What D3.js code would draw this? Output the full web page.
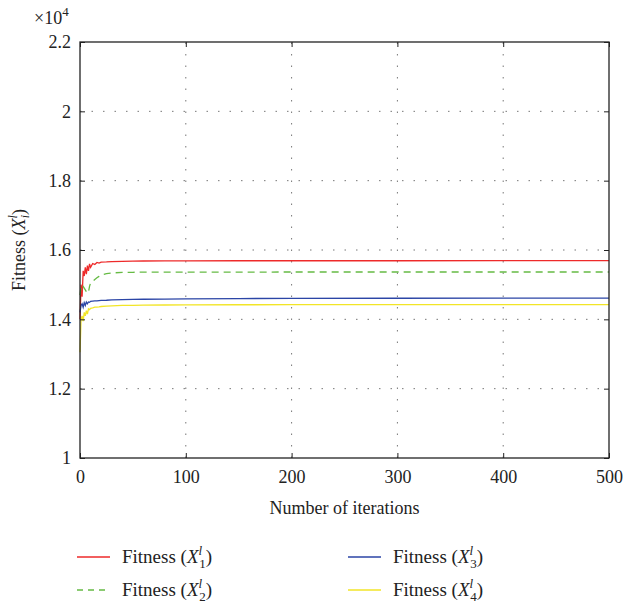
<!DOCTYPE html>
<html>
<head>
<meta charset="utf-8">
<script src="https://cdn.jsdelivr.net/npm/d3@7"></script>
<style>
  body { margin: 0; background: #fff; }
  text { font-family: "Liberation Serif", "DejaVu Serif", serif; fill: #222; }
</style>
</head>
<body>
<div id="chart"></div>
<script>
const iterations = [0, 1, 2, 3, 4, 5, 6, 7, 8, 9, 10, 12, 14, 16, 18, 20, 25, 30, 40, 50, 60, 80, 100, 150, 200, 300, 400, 500];
const fitness1 = [14000, 15000, 14650, 15400, 15250, 15500, 15300, 15550, 15400, 15600, 15500, 15610, 15580, 15640, 15620, 15650, 15655, 15665, 15672, 15678, 15682, 15685, 15688, 15690, 15690, 15690, 15692, 15692];
const fitness2 = [14700, 14950, 15000, 14950, 14900, 14850, 14800, 14750, 14780, 14950, 15050, 15100, 15150, 15200, 15240, 15280, 15320, 15340, 15352, 15357, 15360, 15362, 15363, 15364, 15365, 15365, 15366, 15366];
const fitness3 = [14200, 14400, 14450, 14350, 14480, 14400, 14500, 14450, 14500, 14490, 14520, 14525, 14530, 14535, 14540, 14545, 14550, 14560, 14570, 14575, 14580, 14585, 14590, 14600, 14605, 14608, 14610, 14610];
const fitness4 = [13050, 14000, 14100, 13950, 14200, 14100, 14250, 14150, 14300, 14280, 14320, 14330, 14350, 14355, 14360, 14370, 14380, 14390, 14400, 14405, 14410, 14413, 14415, 14420, 14422, 14424, 14425, 14425];
const seriesNames = ["1", "2", "3", "4"];
const seriesColors = ["#ee2a2a", "#66bb44", "#2b45a6", "#f2e527"];
const xTicks = [0, 100, 200, 300, 400, 500];
const yTicks = [10000, 12000, 14000, 16000, 18000, 20000, 22000];

const width = 624, height = 610;
const margin = {left: 80, right: 15, top: 42, bottom: 152};

const svg = d3.select("#chart").append("svg")
    .attr("width", width)
    .attr("height", height);

const x = d3.scaleLinear().domain([0, 500]).range([margin.left, width - margin.right]);
const y = d3.scaleLinear().domain([10000, 22000]).range([height - margin.bottom, margin.top]);

const x0 = x.range()[0], x1 = x.range()[1], y0 = y.range()[0], y1 = y.range()[1];

// grid
const grid = svg.append("g")
    .attr("stroke", "#777")
    .attr("stroke-width", 1)
    .attr("stroke-dasharray", "1.5,10");
grid.selectAll(".gx").data(xTicks.slice(1, -1)).join("line")
    .attr("x1", d => x(d)).attr("x2", d => x(d))
    .attr("y1", y0).attr("y2", y1);
grid.selectAll(".gy").data(yTicks.slice(1, -1)).join("line")
    .attr("x1", x0).attr("x2", x1)
    .attr("y1", d => y(d)).attr("y2", d => y(d));

// lines
const data = [fitness1, fitness2, fitness3, fitness4];
const line = d3.line()
    .x((d, i) => x(iterations[i]))
    .y(d => y(d));

svg.append("g")
    .attr("fill", "none")
    .attr("stroke-width", 1.3)
    .selectAll("path")
    .data(data)
    .join("path")
    .attr("stroke", (d, i) => seriesColors[i])
    .attr("stroke-dasharray", (d, i) => i === 1 ? "7,5" : null)
    .attr("d", line);

// axes (ticks inward, boxed)
const ax = svg.append("g");
ax.append("g").attr("transform", `translate(0,${y0})`)
    .call(d3.axisBottom(x).tickValues(xTicks).tickSize(-5).tickPadding(12))
    .call(g => g.select(".domain").remove());
ax.append("g").attr("transform", `translate(${x0},0)`)
    .call(d3.axisLeft(y).tickValues(yTicks).tickSize(-5).tickPadding(9).tickFormat(d => d3.format("~g")(d / 1e4)))
    .call(g => g.select(".domain").remove());
ax.append("g").attr("transform", `translate(0,${y1})`)
    .call(d3.axisTop(x).tickValues(xTicks).tickSize(-5).tickFormat(""))
    .call(g => g.select(".domain").remove());
ax.append("g").attr("transform", `translate(${x1},0)`)
    .call(d3.axisRight(y).tickValues(yTicks).tickSize(-5).tickFormat(""))
    .call(g => g.select(".domain").remove());
ax.selectAll(".tick line").attr("stroke", "#222");
ax.selectAll(".tick text")
    .attr("font-family", "Liberation Serif, serif")
    .attr("font-size", 18)
    .attr("fill", "#222");

svg.append("rect")
    .attr("x", x0).attr("y", y1)
    .attr("width", x1 - x0).attr("height", y0 - y1)
    .attr("fill", "none").attr("stroke", "#222").attr("stroke-width", 1.3);

// exponent
const expo = svg.append("text").attr("x", 34).attr("y", 24).attr("font-size", 18);
expo.append("tspan").text("\u00d710");
expo.append("tspan").attr("font-size", 13).attr("dy", -8).text("4");

// axis titles
svg.append("text")
    .attr("x", (x0 + x1) / 2).attr("y", 514)
    .attr("text-anchor", "middle").attr("font-size", 18)
    .text("Number of iterations");

const yl = svg.append("text")
    .attr("transform", `translate(25,${(y0 + y1) / 2}) rotate(-90)`)
    .attr("text-anchor", "middle").attr("font-size", 18);
yl.append("tspan").text("Fitness (");
yl.append("tspan").attr("font-style", "italic").text("X");
yl.append("tspan").attr("font-style", "italic").attr("font-size", 12).attr("dy", -8).text("l");
yl.append("tspan").attr("font-style", "italic").attr("font-size", 12).attr("dx", -3).attr("dy", 12).text("i");
yl.append("tspan").attr("dy", -4).text(")");

// legend
const legend = svg.append("g").attr("font-size", 19);
const item = legend.selectAll("g").data(seriesNames).join("g")
    .attr("transform", (d, i) => `translate(${i < 2 ? 77 : 348},${i % 2 === 0 ? 557 : 590})`);
item.append("line")
    .attr("x1", 0).attr("x2", 33).attr("y1", 0).attr("y2", 0)
    .attr("stroke", (d, i) => seriesColors[i])
    .attr("stroke-width", 1.3)
    .attr("stroke-dasharray", (d, i) => i === 1 ? "6,5" : null);
const lt = item.append("text").attr("x", 45).attr("y", 6);
lt.append("tspan").text("Fitness (");
lt.append("tspan").attr("font-style", "italic").text("X");
lt.append("tspan").attr("font-style", "italic").attr("font-size", 13).attr("dy", -8).text("l");
lt.append("tspan").attr("font-size", 13).attr("dx", -3).attr("dy", 13).text(d => d);
lt.append("tspan").attr("dy", -5).text(")");
</script>
</body>
</html>
